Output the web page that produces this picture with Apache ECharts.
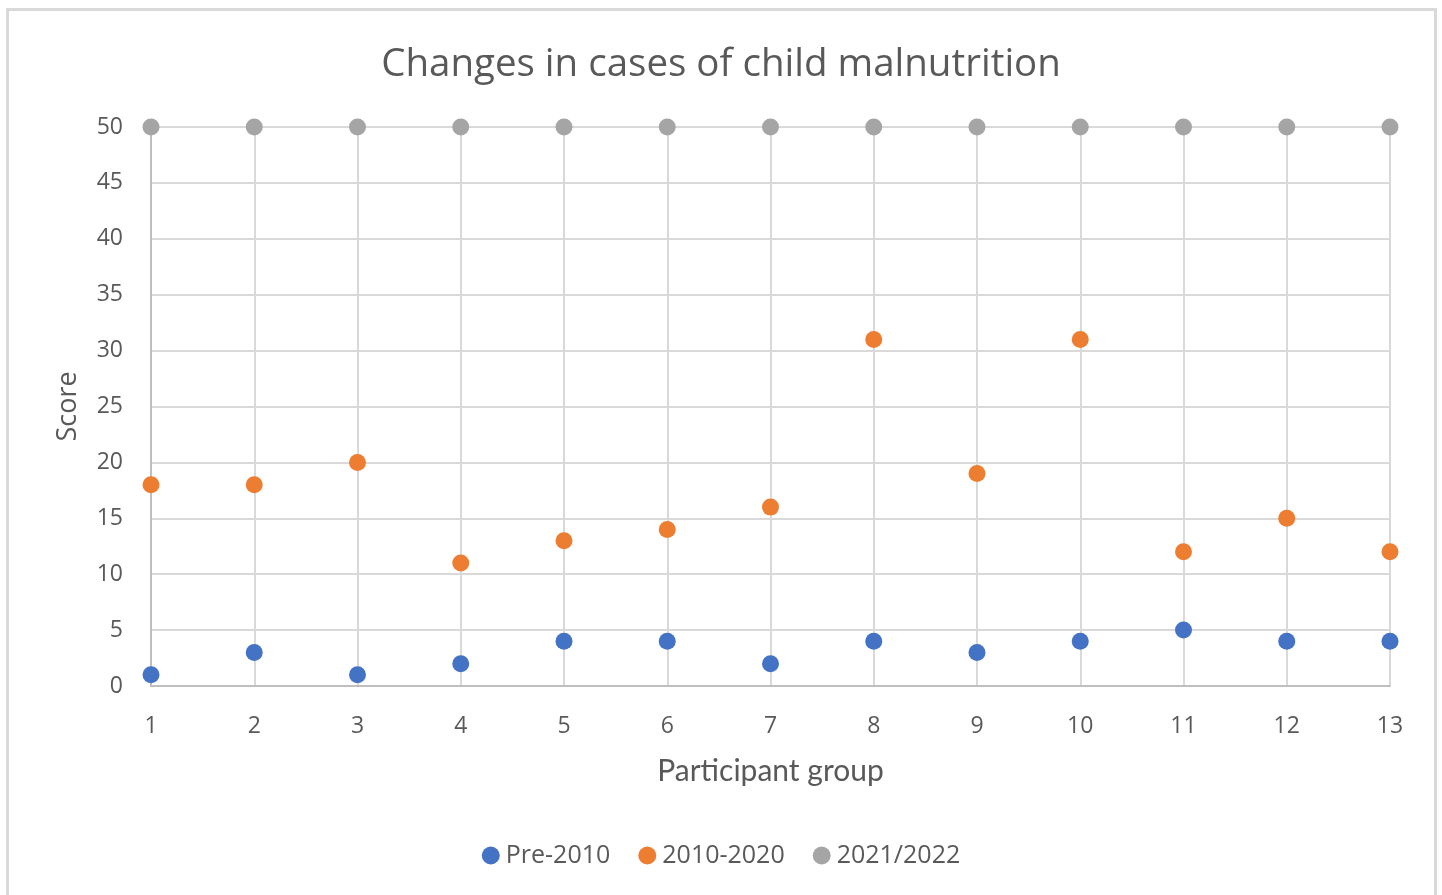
<!DOCTYPE html>
<html>
<head>
<meta charset="utf-8">
<script src="https://cdn.jsdelivr.net/npm/echarts@6/dist/echarts.min.js"></script>
<style>
  html, body { margin: 0; padding: 0; background: #fff; }
  #frame { position: absolute; left: 6px; top: 8px; width: 1431px; height: 900px; border: 3px solid #d9d9d9; box-sizing: border-box; }
  #chart { position: absolute; left: 0; top: 0; width: 1442px; height: 895px; }
</style>
</head>
<body>
<div id="frame"></div>
<div id="chart"></div>
<script>
// Participant groups (x) and scores for each period
const groups = [1, 2, 3, 4, 5, 6, 7, 8, 9, 10, 11, 12, 13];
const pre2010 = [1, 3, 1, 2, 4, 4, 2, 4, 3, 4, 5, 4, 4];
const y2010to2020 = [18, 18, 20, 11, 13, 14, 16, 31, 19, 31, 12, 15, 12];
const y2021to2022 = [50, 50, 50, 50, 50, 50, 50, 50, 50, 50, 50, 50, 50];
const seriesNames = ['Pre-2010', '2010-2020', '2021/2022'];
const seriesColors = ['#4472C4', '#ED7D31', '#A5A5A5'];

const pairs = vals => groups.map((g, i) => [g, vals[i]]);
const textColor = '#595959';
const uiFont = '"Open Sans", "Noto Sans", sans-serif';

const chart = echarts.init(document.getElementById('chart'));
chart.setOption({
  animation: false,
  backgroundColor: 'transparent',
  title: {
    text: 'Changes in cases of child malnutrition',
    left: 'center',
    top: 41,
    textStyle: { color: textColor, fontSize: 38.5, fontWeight: 'normal', fontFamily: uiFont }
  },
  legend: {
    bottom: 22,
    left: 'center',
    icon: 'circle',
    itemWidth: 18,
    itemHeight: 18,
    itemGap: 28,
    textStyle: { color: textColor, fontSize: 25, fontFamily: uiFont, padding: [0, 0, 0, 1] },
    data: seriesNames
  },
  grid: { left: 151, right: 52, top: 127, bottom: 209, containLabel: false },
  xAxis: {
    type: 'value',
    min: 1,
    max: 13,
    interval: 1,
    name: 'Participant group',
    nameLocation: 'middle',
    nameGap: 70,
    nameTextStyle: { color: textColor, fontSize: 30, fontFamily: 'Lato, sans-serif' },
    axisLine: { show: true, lineStyle: { color: '#bfbfbf', width: 2 } },
    axisTick: { show: false },
    axisLabel: { color: textColor, fontSize: 23, fontFamily: uiFont, margin: 29 },
    splitLine: { show: true, lineStyle: { color: '#d9d9d9', width: 2 } }
  },
  yAxis: {
    type: 'value',
    min: 0,
    max: 50,
    interval: 5,
    name: 'Score',
    nameLocation: 'middle',
    nameGap: 69,
    nameRotate: 90,
    nameTextStyle: { color: textColor, fontSize: 27, fontFamily: uiFont },
    axisLine: { show: true, lineStyle: { color: '#bfbfbf', width: 2 } },
    axisTick: { show: false },
    axisLabel: { color: textColor, fontSize: 23, fontFamily: uiFont, margin: 28 },
    splitLine: { show: true, lineStyle: { color: '#d9d9d9', width: 2 } }
  },
  series: [pre2010, y2010to2020, y2021to2022].map((vals, i) => ({
    name: seriesNames[i],
    type: 'scatter',
    symbol: 'circle',
    symbolSize: 17,
    clip: false,
    itemStyle: { color: seriesColors[i], opacity: 1 },
    data: pairs(vals)
  }))
});
</script>
</body>
</html>
